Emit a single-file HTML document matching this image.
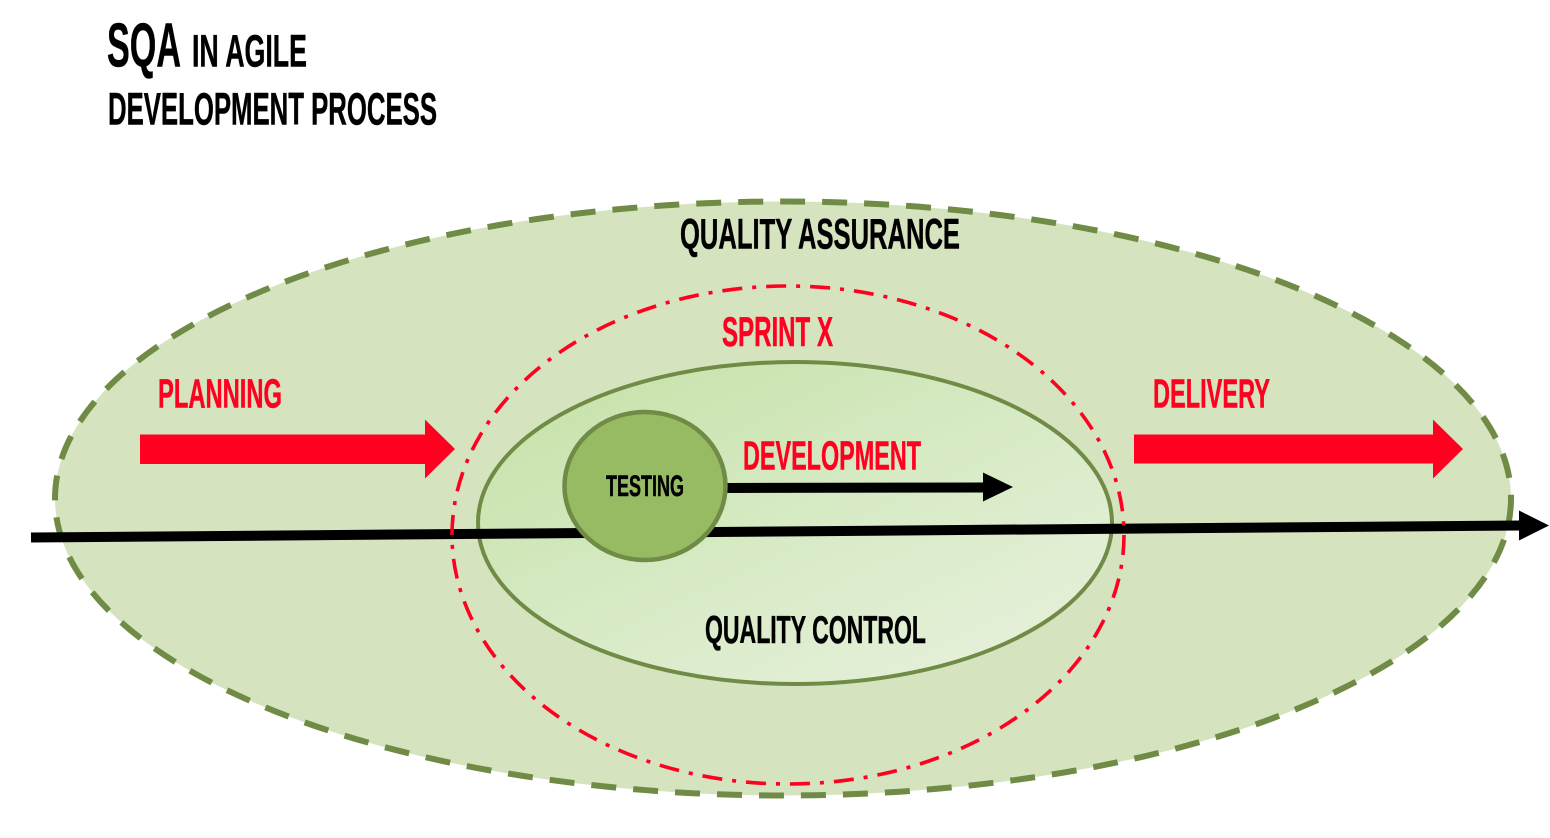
<!DOCTYPE html>
<html lang="en">
<head>
<meta charset="utf-8">
<title>SQA in Agile Development Process</title>
<style>
html,body{margin:0;padding:0;background:#fff}
svg{display:block}
text{font-family:"Liberation Sans",sans-serif;font-weight:700}
</style>
</head>
<body>
<svg width="1550" height="838" viewBox="0 0 1550 838" xmlns="http://www.w3.org/2000/svg">
<defs>
<linearGradient id="g" x1="0.12" y1="0.1" x2="0.9" y2="0.95">
<stop offset="0" stop-color="#c8e3ac"/>
<stop offset="0.55" stop-color="#d9ebc8"/>
<stop offset="1" stop-color="#e7f0db"/>
</linearGradient>
</defs>
<rect width="1550" height="838" fill="#fff"/>

<ellipse cx="783" cy="498.5" rx="728" ry="297" fill="#d5e3bf" stroke="#6f8b45" stroke-width="6" stroke-dasharray="25 17"/>
<ellipse cx="795" cy="523" rx="317" ry="161" fill="url(#g)" stroke="#6f8b45" stroke-width="4"/>

<line x1="31" y1="537.5" x2="1521" y2="525.5" stroke="#000" stroke-width="10"/>
<polygon points="1519,510.500 1549,525.5 1519,540.500" fill="#000"/>

<ellipse cx="788" cy="535" rx="336" ry="249" fill="none" stroke="#ff0020" stroke-width="3.6" stroke-dasharray="20 10 4 10"/>

<polygon points="140,434.500 425,434.500 425,419.500 455,449 425,478.500 425,464 140,464" fill="#ff0020"/>
<polygon points="1134,434.500 1433,434.500 1433,419.500 1463,449 1433,478.500 1433,463.500 1134,463.500" fill="#ff0020"/>

<line x1="725" y1="488" x2="985" y2="487.5" stroke="#000" stroke-width="10"/>
<polygon points="983,472.5 1013,487 983,501.5" fill="#000"/>

<ellipse cx="645" cy="486" rx="80.500" ry="74" fill="#97bb63" stroke="#6f8b45" stroke-width="4.500"/>

<g fill="#000" stroke="#000" stroke-width="0.5">
<text x="107" y="66.500" font-size="62" textLength="74" lengthAdjust="spacingAndGlyphs">SQA</text>
<text x="192" y="66.500" font-size="45" textLength="115" lengthAdjust="spacingAndGlyphs">IN AGILE</text>
<text x="108" y="124.500" font-size="45" textLength="329" lengthAdjust="spacingAndGlyphs">DEVELOPMENT PROCESS</text>
<text x="680" y="248.500" font-size="43" textLength="280" lengthAdjust="spacingAndGlyphs">QUALITY ASSURANCE</text>
<text x="606" y="496" font-size="30" textLength="78" lengthAdjust="spacingAndGlyphs">TESTING</text>
<text x="705" y="643" font-size="39" textLength="221" lengthAdjust="spacingAndGlyphs">QUALITY CONTROL</text>
</g>
<g fill="#ff0020" stroke="#ff0020" stroke-width="0.5">
<text x="722" y="346" font-size="42" textLength="111" lengthAdjust="spacingAndGlyphs">SPRINT X</text>
<text x="158" y="407.500" font-size="41" textLength="124" lengthAdjust="spacingAndGlyphs">PLANNING</text>
<text x="1153" y="407.500" font-size="41" textLength="117" lengthAdjust="spacingAndGlyphs">DELIVERY</text>
<text x="743" y="469.500" font-size="41" textLength="178" lengthAdjust="spacingAndGlyphs">DEVELOPMENT</text>
</g>
</svg>
</body>
</html>
